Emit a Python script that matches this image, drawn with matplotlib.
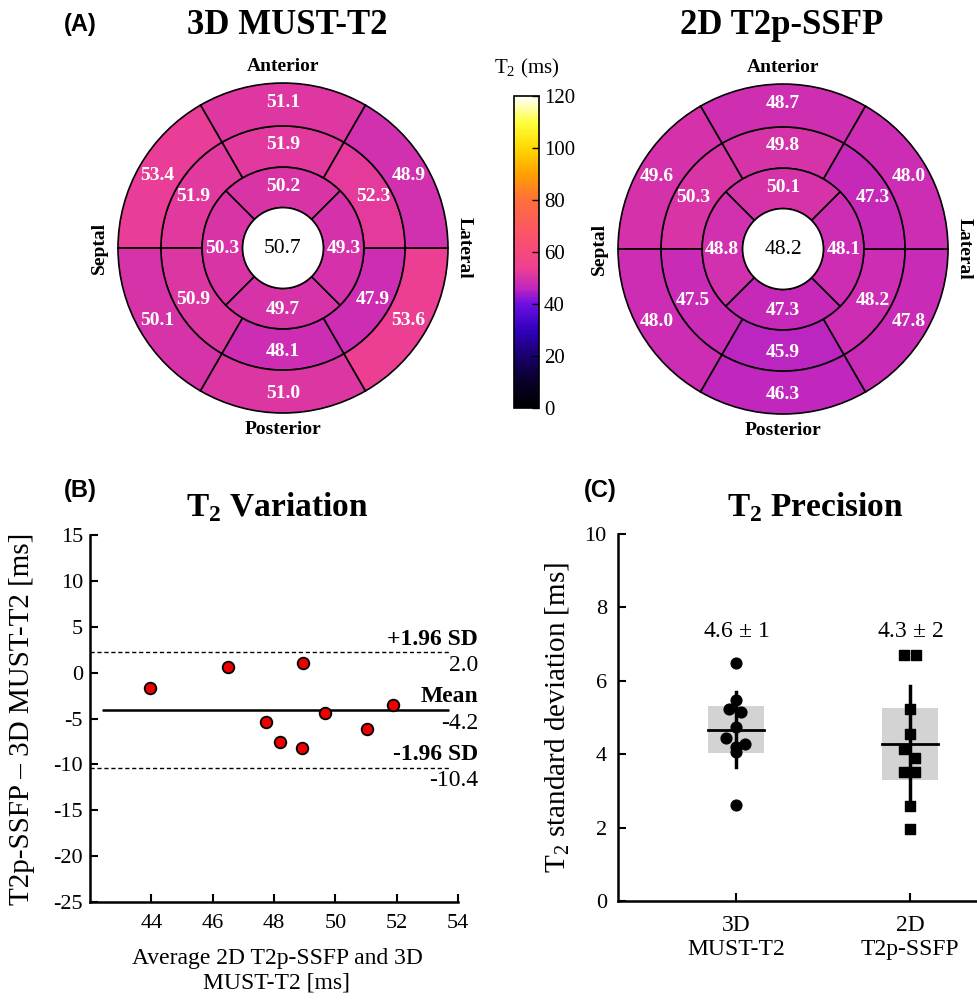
import numpy as np
import matplotlib
matplotlib.use("Agg")
import matplotlib.pyplot as plt
from matplotlib.patches import Wedge, Circle, Rectangle
from matplotlib.colors import LinearSegmentedColormap, Normalize
from matplotlib.cm import ScalarMappable

plt.rcParams['font.family'] = 'serif'
plt.rcParams['font.serif'] = ['Liberation Serif', 'DejaVu Serif']
plt.rcParams['mathtext.fontset'] = 'custom'
plt.rcParams['mathtext.rm'] = 'Liberation Serif'
plt.rcParams['mathtext.bf'] = 'Liberation Serif:bold'
plt.rcParams['axes.unicode_minus'] = False

# ---- (A) bullseye values, ring order: top, upper-left, lower-left, bottom, lower-right, upper-right
must_outer = [51.1, 53.4, 50.1, 51.0, 53.6, 48.9]
must_middle = [51.9, 51.9, 50.9, 48.1, 47.9, 52.3]
must_inner = [50.2, 50.3, 49.7, 49.3]   # top, left, bottom, right
must_apex = 50.7

ssfp_outer = [48.7, 49.6, 48.0, 46.3, 47.8, 48.0]
ssfp_middle = [49.8, 50.3, 47.5, 45.9, 48.2, 47.3]
ssfp_inner = [50.1, 48.8, 47.3, 48.1]
ssfp_apex = 48.2

# ---- (B) Bland-Altman
ba_mean = [43.95, 46.49, 48.96, 47.73, 48.2, 48.9, 49.66, 51.04, 51.89]
ba_diff = [-1.7, 0.64, 1.07, -5.36, -7.55, -8.2, -4.45, -6.1, -3.55]
ba_lines = [2.2, -4.05, -10.35]
ba_names = ['+1.96 SD', 'Mean', '-1.96 SD']
ba_values = ['2.0', '-4.2', '-10.4']

# ---- (C) precision
groups = ['3D\nMUST-T2', '2D\nT2p-SSFP']
sd_must = [6.49, 5.47, 5.22, 5.15, 4.75, 4.43, 4.29, 4.20, 4.06, 2.61]
jit_must = [0, 0, -0.04, 0.027, 0, -0.06, 0.05, 0, 0, 0]
sd_ssfp = [6.7, 6.7, 5.22, 4.56, 4.15, 3.90, 3.52, 3.52, 2.58, 1.95]
jit_ssfp = [-0.035, 0.035, 0, 0, -0.035, 0.03, -0.035, 0.03, 0, 0]
group_text = ['4.6 $\\pm$ 1', '4.3 $\\pm$ 2']

# colour map (black - blue - purple - magenta - orange - yellow - white)
anchors = [(0, '#000000'), (10, '#0a0028'), (20, '#19006e'), (30, '#3200be'),
           (40, '#6e0fe1'), (46, '#c026be'), (54, '#ee4092'), (65, '#fa506e'),
           (80, '#ff6e3c'), (90, '#ffa000'), (100, '#ffd700'), (110, '#ffff3c'),
           (120, '#ffffff')]
t2map = LinearSegmentedColormap.from_list('t2', [(a / 120, c) for a, c in anchors])
norm = Normalize(0, 120)

fig = plt.figure(figsize=(9.77, 10.08), dpi=100)


def bullseye(ax, outer, middle, inner, apex):
    r = [0.245, 0.49, 0.74, 1.0]
    for ring, (r_in, r_out, rt) in zip([middle, outer], [(r[1], r[2], 0.63), (r[2], r[3], 0.88)]):
        for i, v in enumerate(ring):
            t1 = 60 + 60 * i
            ax.add_patch(Wedge((0, 0), r_out, t1, t1 + 60, width=r_out - r_in,
                               facecolor=t2map(norm(v)), edgecolor='black', lw=1.2))
            a = np.deg2rad(t1 + 30)
            ax.text(rt * np.cos(a), rt * np.sin(a), f'{v:.1f}', color='white',
                    fontsize=14, fontweight='bold', ha='center', va='center')
    for i, v in enumerate(inner):
        t1 = 45 + 90 * i
        ax.add_patch(Wedge((0, 0), r[1], t1, t1 + 90, width=r[1] - r[0],
                           facecolor=t2map(norm(v)), edgecolor='black', lw=1.2))
        a = np.deg2rad(t1 + 45)
        ax.text(0.37 * np.cos(a), 0.37 * np.sin(a), f'{v:.1f}', color='white',
                fontsize=14, fontweight='bold', ha='center', va='center')
    ax.add_patch(Circle((0, 0), r[0], facecolor='white', edgecolor='black', lw=1.2))
    ax.text(0, 0, f'{apex:.1f}', fontsize=15.5, ha='center', va='center')
    ax.text(0, 1.1, 'Anterior', fontsize=14, fontweight='bold', ha='center', va='center')
    ax.text(0, -1.1, 'Posterior', fontsize=14, fontweight='bold', ha='center', va='center')
    ax.text(-1.11, 0, 'Septal', fontsize=14, fontweight='bold', ha='center', va='center', rotation=90)
    ax.text(1.095, 0, 'Lateral', fontsize=14, fontweight='bold', ha='center', va='center', rotation=-90)
    ax.set_xlim(-1.2, 1.2)
    ax.set_ylim(-1.2, 1.2)
    ax.set_aspect('equal')
    ax.axis('off')


axA1 = fig.add_axes([0.087, 0.5575, 0.4053, 0.3929])
bullseye(axA1, must_outer, must_middle, must_inner, must_apex)
axA2 = fig.add_axes([0.5988, 0.5565, 0.4053, 0.3929])
bullseye(axA2, ssfp_outer, ssfp_middle, ssfp_inner, ssfp_apex)

fig.text(287 / 977, 1 - 25 / 1008, '3D MUST-T2', fontsize=25, fontweight='bold', ha='center', va='center')
fig.text(782 / 977, 1 - 25 / 1008, '2D T2p-SSFP', fontsize=25, fontweight='bold', ha='center', va='center')

cax = fig.add_axes([0.5261, 0.5952, 0.0256, 0.3095])
cb = fig.colorbar(ScalarMappable(norm=norm, cmap=t2map), cax=cax, ticks=range(0, 121, 20))
cb.outline.set_linewidth(1.2)
cax.tick_params(direction='in', length=5, width=1, labelsize=15)
fig.text(527 / 977, 1 - 68 / 1008, 'T$_2$ (ms)', fontsize=15, ha='center', va='center')

# ---- (B)
axB = fig.add_axes([0.0921, 0.1052, 0.3767, 0.364])
axB.hlines(ba_lines[0], 42, 53.75, colors='black', linestyles=(0, (3, 2)), lw=1)
axB.hlines(ba_lines[1], 42.4, 53.7, colors='black', lw=1.8)
axB.hlines(ba_lines[2], 42, 53.75, colors='black', linestyles=(0, (3, 2)), lw=1)
axB.scatter(ba_mean, ba_diff, s=70, c='#ee0000', edgecolors='black', linewidths=1.3, zorder=3)
for y, name, val in zip(ba_lines, ba_names, ba_values):
    axB.annotate(name, xy=(1.054, y), xycoords=axB.get_yaxis_transform(), xytext=(0, 2),
                 textcoords='offset points', ha='right', va='bottom', fontsize=17, fontweight='bold')
    axB.annotate(val, xy=(1.054, y), xycoords=axB.get_yaxis_transform(), xytext=(0, -2),
                 textcoords='offset points', ha='right', va='top', fontsize=17)
axB.set_xlim(42, 54)
axB.set_ylim(-25, 15)
axB.set_xticks(range(44, 55, 2))
axB.set_yticks(range(-25, 16, 5))
axB.set_ylabel('T2p-SSFP \u2013 3D MUST-T2 [ms]', fontsize=21)
axB.set_xlabel('Average 2D T2p-SSFP and 3D\nMUST-T2 [ms]', fontsize=17)
axB.yaxis.set_label_coords(-0.15, 0.5)
axB.xaxis.set_label_coords(0.508, -0.125)
fig.text(277 / 977, 1 - 507 / 1008, 'T$_\\mathbf{2}$ Variation', fontsize=24, fontweight='bold',
         ha='center', va='center')

# ---- (C)
axC = fig.add_axes([0.6325, 0.1062, 0.3675, 0.3641])
for pos, (vals, jit, mk, ms, lab) in enumerate(zip([sd_must, sd_ssfp], [jit_must, jit_ssfp],
                                                    ['o', 's'], [60, 48], group_text), start=1):
    vals = np.array(vals)
    m = vals.mean()
    s = vals.std(ddof=1)
    ci = 1.96 * s / np.sqrt(len(vals))
    axC.add_patch(Rectangle((pos - 0.16, m - ci), 0.32, 2 * ci, facecolor='#d3d3d3',
                            edgecolor='none', zorder=1))
    axC.plot([pos, pos], [m - s, m + s], color='black', lw=2.5, zorder=2)
    axC.plot([pos - 0.16, pos + 0.16], [m, m], color='black', lw=2, zorder=2)
    axC.scatter(pos + np.array(jit), vals, marker=mk, s=ms, c='black', zorder=3)
    axC.text(pos, 7.35, lab, fontsize=17, ha='center', va='center')
axC.set_xlim(0.322, 2.385)
axC.set_ylim(0, 10)
axC.set_xticks([1, 2])
axC.set_xticklabels(groups)
axC.set_yticks(range(0, 11, 2))
axC.set_ylabel('T$_2$ standard deviation [ms]', fontsize=21)
axC.yaxis.set_label_coords(-0.128, 0.5)
fig.text(815 / 977, 1 - 507 / 1008, 'T$_\\mathbf{2}$ Precision', fontsize=24, fontweight='bold',
         ha='center', va='center')

for ax in (axB, axC):
    for sp in ('top', 'right'):
        ax.spines[sp].set_visible(False)
    for sp in ('left', 'bottom'):
        ax.spines[sp].set_linewidth(1.8)
    ax.tick_params(direction='in', length=6, width=1.5, labelsize=16)
axB.tick_params(axis='x', pad=9)
axB.tick_params(axis='y', pad=5)
axC.tick_params(axis='x', pad=10, labelsize=17)
axC.tick_params(axis='y', pad=8)

fig.text(80 / 977, 1 - 25 / 1008, '(A)', family='Liberation Sans', fontsize=17, fontweight='bold', ha='center', va='center')
fig.text(80 / 977, 1 - 490 / 1008, '(B)', family='Liberation Sans', fontsize=17, fontweight='bold', ha='center', va='center')
fig.text(600 / 977, 1 - 490 / 1008, '(C)', family='Liberation Sans', fontsize=17, fontweight='bold', ha='center', va='center')

fig.savefig('out.png', dpi=100)
